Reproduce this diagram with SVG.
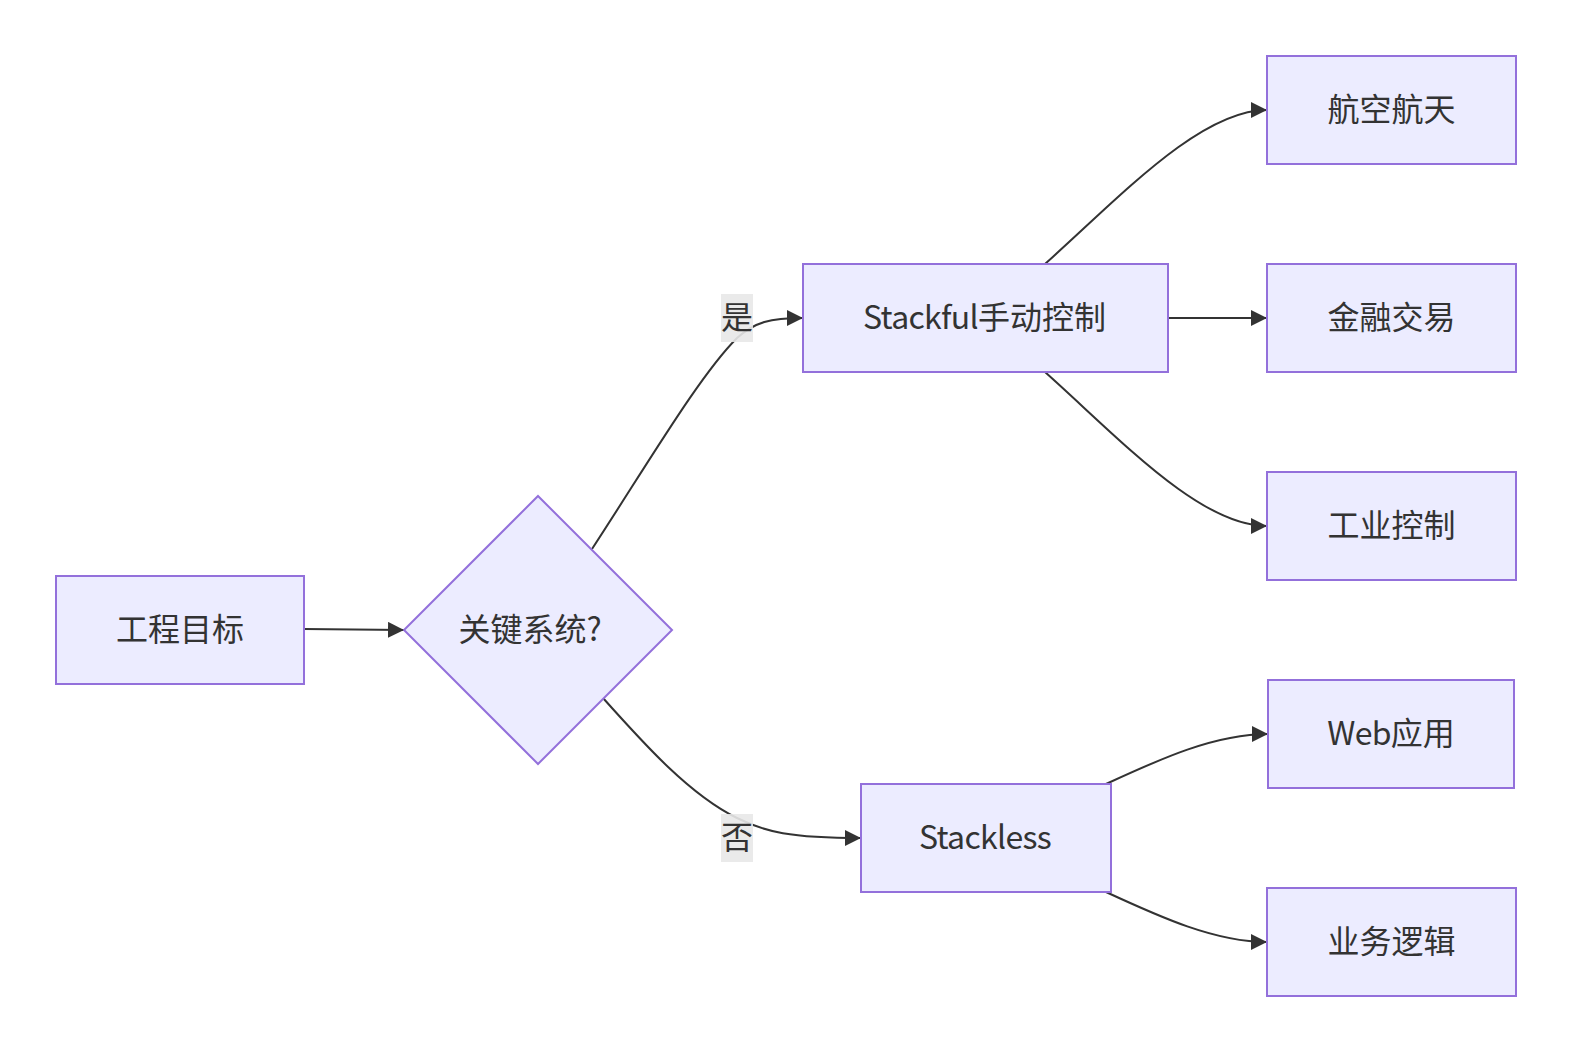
<svg xmlns="http://www.w3.org/2000/svg" width="1571" height="1052" viewBox="0 0 1571 1052">
<style>
.node rect, .node polygon { fill: #ECECFF; stroke: #9370DB; stroke-width: 2; }
.node text, .label text { font-family: "Noto Sans CJK SC", "Noto Sans", sans-serif; font-size: 32px; fill: #333333; text-anchor: middle; dominant-baseline: central; }
.lat { letter-spacing: -0.7px; }
.edge { fill: none; stroke: #333333; stroke-width: 2; }
.label rect { fill: #E8E8E8; fill-opacity: 0.9; }
</style>
<defs>
<marker id="arrow" viewBox="0 0 10 10" refX="10" refY="5" markerUnits="userSpaceOnUse" markerWidth="16" markerHeight="16" orient="auto">
<path d="M0,0 L10,5 L0,10 z" fill="#333333"/>
</marker>
</defs>
<rect width="1571" height="1052" fill="#FFFFFF"/>
<g id="connectors">
<path class="edge" d="M304,629 L404,630" marker-end="url(#arrow)"/>
<path class="edge" d="M592,549 C650,460 700,375 737,338 C755,322 770,318 803,318" marker-end="url(#arrow)"/>
<path class="edge" d="M603,698 C645,745 690,795 737,818 C765,832 790,838 861,838" marker-end="url(#arrow)"/>
<path class="edge" d="M1045,264 C1120,197 1200,110 1267,110" marker-end="url(#arrow)"/>
<path class="edge" d="M1168,318 L1267,318" marker-end="url(#arrow)"/>
<path class="edge" d="M1045,372 C1120,439 1200,526 1267,526" marker-end="url(#arrow)"/>
<path class="edge" d="M1106,784 C1160,759 1215,734 1268,734" marker-end="url(#arrow)"/>
<path class="edge" d="M1106,892 C1160,917 1215,942 1267,942" marker-end="url(#arrow)"/>
</g>
<g id="label-yes" class="label"><rect x="721" y="294" width="32" height="48"/><text x="737" y="315">是</text></g>
<g id="label-no" class="label"><rect x="721" y="814" width="32" height="48"/><text x="737" y="835">否</text></g>
<g id="goal" class="node"><rect x="56" y="576" width="248" height="108"/><text x="180" y="627">工程目标</text></g>
<g id="critical" class="node"><polygon points="538,496 672,630 538,764 404,630"/><text x="530" y="627">关键系统?</text></g>
<g id="stackful" class="node"><rect x="803" y="264" width="365" height="108"/><text x="984.5" y="315"><tspan class="lat">Stackful</tspan>手动控制</text></g>
<g id="stackless" class="node"><rect x="861" y="784" width="250" height="108"/><text x="985" y="835" class="lat">Stackless</text></g>
<g id="aerospace" class="node"><rect x="1267" y="56" width="249" height="108"/><text x="1391.5" y="107">航空航天</text></g>
<g id="finance" class="node"><rect x="1267" y="264" width="249" height="108"/><text x="1391.5" y="315">金融交易</text></g>
<g id="industrial" class="node"><rect x="1267" y="472" width="249" height="108"/><text x="1391.5" y="523">工业控制</text></g>
<g id="web" class="node"><rect x="1268" y="680" width="246" height="108"/><text x="1391" y="731"><tspan class="lat">Web</tspan>应用</text></g>
<g id="business" class="node"><rect x="1267" y="888" width="249" height="108"/><text x="1391.5" y="939">业务逻辑</text></g>
</svg>
